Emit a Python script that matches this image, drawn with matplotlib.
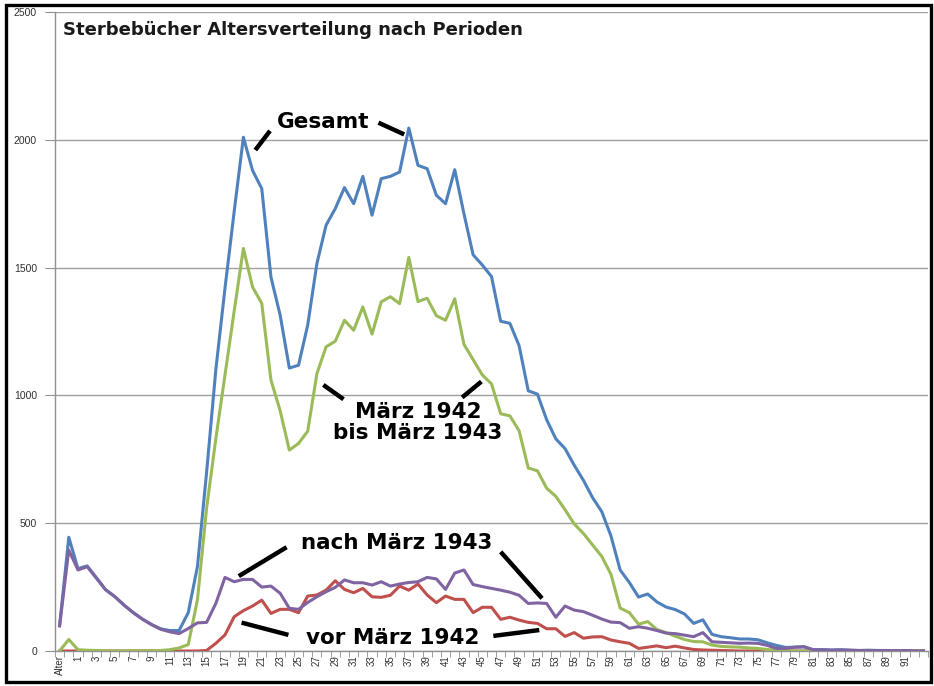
import numpy as np
import matplotlib.pyplot as plt
from matplotlib.patches import Rectangle

# age categories: header cell "Alter" then ages 0..93
ages = ["Alter"] + [str(a) for a in range(0, 94)]

gesamt = [100,
          445, 322, 333, 287, 240, 213, 180, 151, 125, 104,
          87, 80, 80, 150, 330, 700, 1100, 1420, 1720, 2010,
          1880, 1809, 1463, 1314, 1107, 1118, 1275, 1516, 1666, 1731,
          1813, 1750, 1857, 1705, 1848, 1857, 1874, 2046, 1900, 1887,
          1783, 1750, 1883, 1711, 1550, 1510, 1465, 1290, 1282, 1195,
          1018, 1005, 905, 830, 792, 727, 668, 600, 545, 450,
          317, 268, 211, 223, 192, 172, 162, 145, 108, 122,
          65, 56, 52, 47, 47, 44, 32, 22, 14, 15,
          17, 5, 5, 4, 5, 3, 2, 3, 2, 2,
          1, 2, 0, 0]

maerz42_43 = [0,
              45, 5, 3, 2, 0, 0, 0, 1, 0, 1,
              2, 5, 12, 25, 200, 560, 830, 1080, 1330, 1575,
              1424, 1360, 1060, 940, 786, 812, 860, 1085, 1190, 1212,
              1294, 1255, 1346, 1240, 1366, 1386, 1359, 1540, 1367, 1380,
              1312, 1294, 1378, 1200, 1140, 1080, 1045, 928, 920, 862,
              716, 705, 637, 605, 553, 497, 460, 415, 370, 300,
              168, 150, 105, 115, 84, 72, 58, 45, 37, 36,
              23, 18, 16, 15, 12, 10, 6, 3, 1, 0,
              0, 0, 0, 0, 0, 0, 0, 0, 0, 0,
              0, 0, 0, 0]

nach_maerz43 = [98,
                395, 317, 330, 285, 240, 213, 180, 150, 125, 103,
                85, 75, 68, 88, 110, 112, 186, 288, 271, 280,
                280, 250, 254, 226, 167, 163, 190, 212, 232, 249,
                278, 267, 267, 258, 271, 254, 262, 268, 271, 288,
                282, 241, 305, 317, 260, 252, 245, 238, 230, 218,
                186, 188, 186, 132, 176, 160, 154, 140, 125, 113,
                111, 89, 95, 89, 80, 70, 68, 62, 56, 72,
                36, 34, 32, 30, 31, 30, 22, 10, 10, 15,
                16, 5, 5, 3, 4, 3, 2, 2, 2, 2,
                1, 2, 0, 0]

vor_maerz42 = [0,
               0, 0, 0, 0, 0, 0, 0, 0, 0, 0,
               0, 0, 0, 0, 0, 2, 30, 63, 134, 158,
               176, 199, 147, 163, 163, 150, 215, 219, 238, 275,
               241, 228, 245, 212, 210, 218, 254, 238, 262, 219,
               189, 215, 202, 202, 150, 171, 171, 124, 132, 121,
               112, 108, 87, 87, 57, 72, 50, 55, 56, 43,
               36, 30, 10, 15, 20, 13, 19, 12, 6, 4,
               3, 2, 1, 0, 0, 0, 0, 0, 0, 0,
               0, 0, 0, 0, 0, 0, 0, 0, 0, 0,
               0, 0, 0, 0]

x = np.arange(len(ages))

fig = plt.figure(figsize=(9.34, 6.86), dpi=100)
ax = fig.add_axes([55 / 934, 1 - 651 / 686, 873 / 934, 639 / 686])

ax.plot(x, gesamt, color='#4F81BD', lw=2.2, zorder=3)
ax.plot(x, vor_maerz42, color='#C0504D', lw=2.2, zorder=4)
ax.plot(x, maerz42_43, color='#9BBB59', lw=2.2, zorder=4)
ax.plot(x, nach_maerz43, color='#8064A2', lw=2.2, zorder=5)

ax.set_xlim(-0.5, len(ages) - 0.5)
ax.set_ylim(0, 2500)

# category labels every second age, tick marks between categories
ax.set_xticks(x[::2][:47])
ax.set_xticklabels(ages[::2][:47], rotation=90, fontsize=7, color='#303030',
                   family='Liberation Sans')
ax.set_xticks(np.arange(-0.5, len(ages)), minor=True)
ax.tick_params(axis='x', which='major', length=0, pad=3)
ax.tick_params(axis='x', which='minor', length=4, color='#909090', direction='out')

ax.set_yticks(np.arange(0, 2501, 500))
ax.tick_params(axis='y', length=7, color='#909090', labelsize=7.5,
               labelcolor='#303030', pad=6)
for lab in ax.get_yticklabels():
    lab.set_family('Liberation Sans')

ax.yaxis.grid(True, color='#a0a0a0', lw=1.0, zorder=0)
ax.set_axisbelow(True)
for side in ['top', 'right']:
    ax.spines[side].set_visible(False)
for side in ['left', 'bottom']:
    ax.spines[side].set_color('#909090')
    ax.spines[side].set_linewidth(1.0)

fig.text(63 / 934, 1 - 30 / 686, 'Sterbebücher Altersverteilung nach Perioden',
         fontsize=13, fontweight='bold', color='#1a1a1a', va='center', ha='left',
         family='DejaVu Sans')

# series labels with leader lines
lab_kw = dict(fontsize=15.5, fontweight='heavy', family='DejaVu Sans', color='black',
              ha='center', va='center', zorder=6)
lead_kw = dict(color='black', lw=3.2, solid_capstyle='butt', zorder=6)

ax.text(28.7, 2071, 'Gesamt', **lab_kw)
ax.plot([21.3, 22.9], [1960, 2035], **lead_kw)
ax.plot([34.7, 37.5], [2067, 2021], **lead_kw)

ax.text(39.0, 894, 'März 1942\nbis März 1943', linespacing=1.05, **lab_kw)
ax.plot([28.7, 30.9], [1041, 985], **lead_kw)
ax.plot([43.8, 45.9], [992, 1054], **lead_kw)

ax.text(36.7, 422, 'nach März 1943', **lab_kw)
ax.plot([19.5, 24.7], [293, 406], **lead_kw)
ax.plot([48.0, 52.5], [388, 206], **lead_kw)

ax.text(36.2, 50, 'vor März 1942', **lab_kw)
ax.plot([19.8, 24.9], [111, 63], **lead_kw)
ax.plot([47.2, 52.2], [59, 82], **lead_kw)

# black frame round the whole picture
fig.patches.append(Rectangle((5.5 / 934, 4 / 686), 925 / 934, 677 / 686,
                             transform=fig.transFigure, fill=False,
                             ec='black', lw=2.4))

fig.savefig('out.png', dpi=100, facecolor='white')
